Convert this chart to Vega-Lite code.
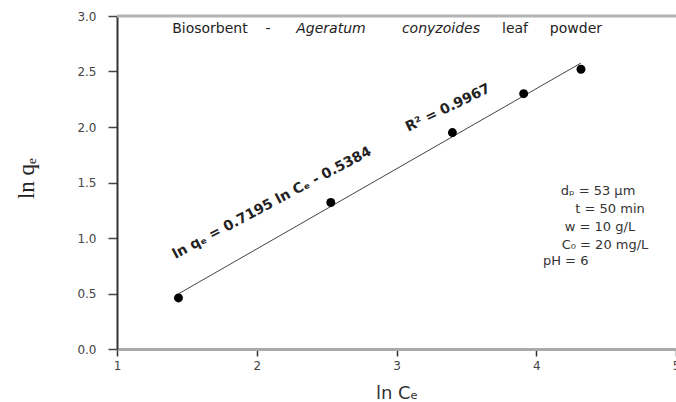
{
  "$schema": "https://vega.github.io/schema/vega-lite/v6.json",
  "width": 559,
  "height": 333,
  "autosize": {"type": "none"},
  "padding": {"left": 117, "top": 16, "right": 0, "bottom": 53},
  "background": "white",
  "config": {"view": {"stroke": null}, "font": "DejaVu Sans"},
  "data": {"values": [
    {"lnCe": 1.44, "lnqe": 0.46},
    {"lnCe": 2.53, "lnqe": 1.32},
    {"lnCe": 3.40, "lnqe": 1.95},
    {"lnCe": 3.91, "lnqe": 2.30},
    {"lnCe": 4.32, "lnqe": 2.52}
  ]},
  "layer": [
    {
      "mark": {"type": "line", "color": "#444444", "strokeWidth": 1},
      "transform": [{"regression": "lnqe", "on": "lnCe"}],
      "encoding": {
        "x": {"field": "lnCe", "type": "quantitative", "scale": {"domain": [1, 5], "nice": false, "zero": false},
          "axis": {"title": "ln Cₑ", "values": [1, 2, 3, 4, 5], "format": "d", "grid": false,
            "domainColor": "#aaaaaa", "domainWidth": 3, "tickColor": "#333333", "tickWidth": 1.5, "tickSize": 7,
            "labelPadding": 4, "labelFont": "DejaVu Sans", "labelFontSize": 12, "labelColor": "#444444", "labelFlush": false,
            "titleFont": "DejaVu Sans", "titleFontSize": 18, "titleFontWeight": "normal", "titleColor": "#333333",
            "titleY": 35, "titleBaseline": "top"}},
        "y": {"field": "lnqe", "type": "quantitative", "scale": {"domain": [0, 3], "nice": false, "zero": false},
          "axis": {"title": "ln qₑ", "values": [0, 0.5, 1, 1.5, 2, 2.5, 3], "format": ".1f", "grid": false,
            "domainColor": "#333333", "domainWidth": 2, "tickColor": "#444444", "tickWidth": 1.5, "tickSize": 9,
            "labelPadding": 12, "labelFont": "DejaVu Sans", "labelFontSize": 12, "labelColor": "#444444",
            "titleFont": "Liberation Serif", "titleFontSize": 23, "titleFontWeight": "normal", "titleColor": "#222222",
            "titleX": -91, "titleY": 162, "titleAngle": -90, "titleBaseline": "middle", "titleAlign": "center"}}
      }
    },
    {
      "data": {"values": [{}]},
      "mark": {"type": "rule", "color": "#b4b4b4", "strokeWidth": 3},
      "encoding": {"y": {"datum": 3}}
    },
    {
      "mark": {"type": "point", "filled": true, "shape": "circle", "size": 80, "color": "#000000", "opacity": 1},
      "encoding": {
        "x": {"field": "lnCe", "type": "quantitative"},
        "y": {"field": "lnqe", "type": "quantitative"}
      }
    },
    {"data": {"values": [{}]}, "mark": {"type": "text", "text": "Biosorbent", "fontSize": 14, "color": "#222222", "align": "center", "baseline": "middle"}, "encoding": {"x": {"datum": 1.665}, "y": {"datum": 2.883}}},
    {"data": {"values": [{}]}, "mark": {"type": "text", "text": "-", "fontSize": 14, "color": "#222222", "align": "center", "baseline": "middle"}, "encoding": {"x": {"datum": 2.08}, "y": {"datum": 2.883}}},
    {"data": {"values": [{}]}, "mark": {"type": "text", "text": "Ageratum", "fontSize": 14, "fontStyle": "italic", "color": "#222222", "align": "center", "baseline": "middle"}, "encoding": {"x": {"datum": 2.531}, "y": {"datum": 2.883}}},
    {"data": {"values": [{}]}, "mark": {"type": "text", "text": "conyzoides", "fontSize": 14, "fontStyle": "italic", "color": "#222222", "align": "center", "baseline": "middle"}, "encoding": {"x": {"datum": 3.318}, "y": {"datum": 2.883}}},
    {"data": {"values": [{}]}, "mark": {"type": "text", "text": "leaf", "fontSize": 14, "color": "#222222", "align": "center", "baseline": "middle"}, "encoding": {"x": {"datum": 3.848}, "y": {"datum": 2.883}}},
    {"data": {"values": [{}]}, "mark": {"type": "text", "text": "powder", "fontSize": 14, "color": "#222222", "align": "center", "baseline": "middle"}, "encoding": {"x": {"datum": 4.284}, "y": {"datum": 2.883}}},
    {"data": {"values": [{}]}, "mark": {"type": "text", "text": "ln qₑ = 0.7195 ln Cₑ - 0.5384", "angle": 332, "fontSize": 14, "fontWeight": "bold", "color": "#222222", "align": "center", "baseline": "middle"}, "encoding": {"x": {"datum": 2.109}, "y": {"datum": 1.315}}},
    {"data": {"values": [{}]}, "mark": {"type": "text", "text": "R² = 0.9967", "angle": 334, "fontSize": 14, "fontWeight": "bold", "color": "#222222", "align": "center", "baseline": "middle"}, "encoding": {"x": {"datum": 3.369}, "y": {"datum": 2.171}}},
    {"data": {"values": [{}]}, "mark": {"type": "text", "text": "dₚ = 53 µm", "fontSize": 13, "color": "#333333", "align": "center", "baseline": "middle"}, "encoding": {"x": {"datum": 4.442}, "y": {"datum": 1.42}}},
    {"data": {"values": [{}]}, "mark": {"type": "text", "text": "t = 50 min", "fontSize": 13, "color": "#333333", "align": "center", "baseline": "middle"}, "encoding": {"x": {"datum": 4.528}, "y": {"datum": 1.26}}},
    {"data": {"values": [{}]}, "mark": {"type": "text", "text": "w = 10 g/L", "fontSize": 13, "color": "#333333", "align": "center", "baseline": "middle"}, "encoding": {"x": {"datum": 4.456}, "y": {"datum": 1.1}}},
    {"data": {"values": [{}]}, "mark": {"type": "text", "text": "C₀ = 20 mg/L", "fontSize": 13, "color": "#333333", "align": "center", "baseline": "middle"}, "encoding": {"x": {"datum": 4.492}, "y": {"datum": 0.94}}},
    {"data": {"values": [{}]}, "mark": {"type": "text", "text": "pH = 6", "fontSize": 13, "color": "#333333", "align": "left", "baseline": "middle"}, "encoding": {"x": {"datum": 4.048}, "y": {"datum": 0.79}}}
  ]
}
